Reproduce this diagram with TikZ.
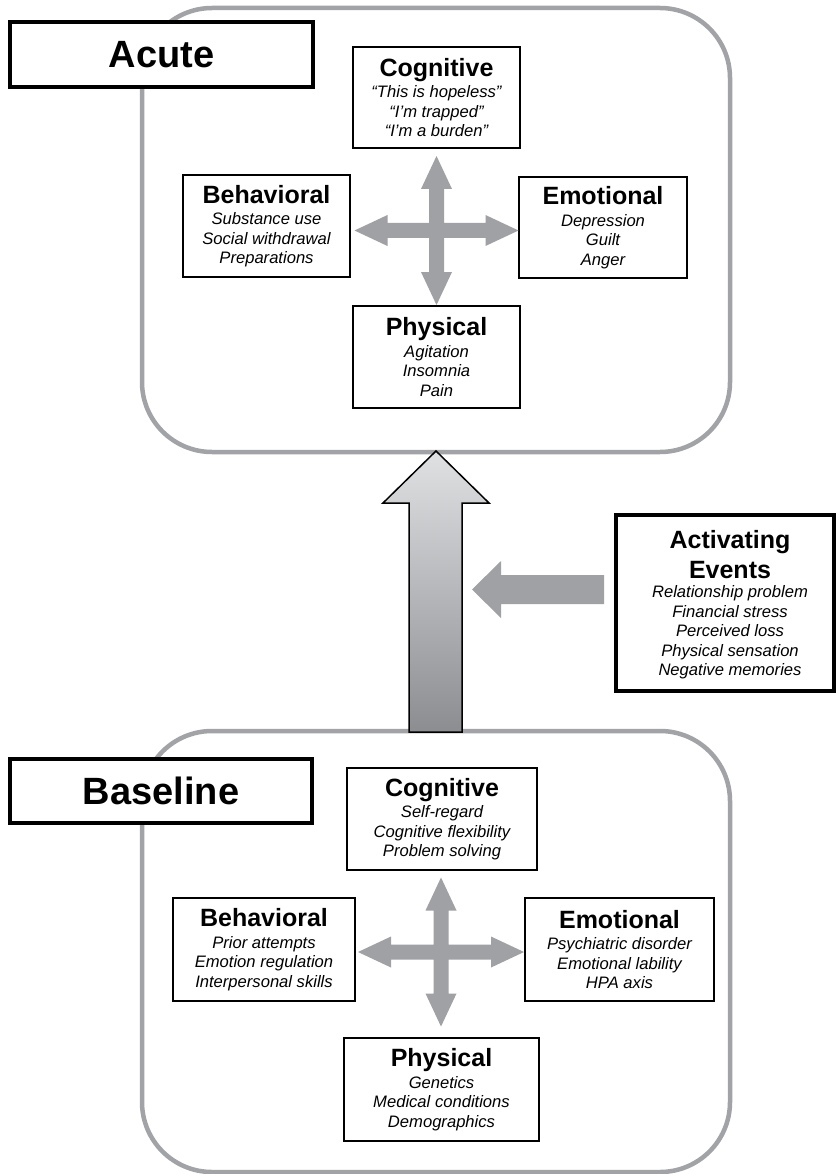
\documentclass[tikz,border=0pt]{standalone}
\usepackage{fontspec}
\setmainfont{Liberation Sans}
\usetikzlibrary{calc}
\definecolor{framegray}{RGB}{162,163,167}
\definecolor{arrgray}{RGB}{160,161,165}
\definecolor{shtop}{RGB}{224,225,227}
\definecolor{shbot}{RGB}{140,141,145}
\newcommand{\boxtitle}{\fontsize{25}{19.5}\selectfont\bfseries\upshape}
\newcommand{\crossarr}[3]{%
\begin{scope}[shift={(#1)}]
\pgfmathsetmacro{\La}{#2-33}\pgfmathsetmacro{\Va}{#3-33}
\fill[arrgray] (#2,0) -- (\La,-15.5) -- (\La,-7.5) -- (7.5,-7.5) -- (7.5,-\Va) -- (15.5,-\Va) -- (0,-#3) -- (-15.5,-\Va) -- (-7.5,-\Va) -- (-7.5,-7.5) -- (-\La,-7.5) -- (-\La,-15.5) -- (-#2,0) -- (-\La,15.5) -- (-\La,7.5) -- (-7.5,7.5) -- (-7.5,\Va) -- (-15.5,\Va) -- (0,#3) -- (15.5,\Va) -- (7.5,\Va) -- (7.5,7.5) -- (\La,7.5) -- (\La,15.5) -- cycle;
\end{scope}}
\begin{document}
\begin{tikzpicture}[x=1pt,y=-1pt,
  frame/.style={draw=framegray, line width=4.5, rounded corners=70},
  labelbox/.style={draw=black, line width=3.5, fill=white, inner sep=0,
    font=\fontsize{38}{42}\selectfont\bfseries},
  ibox/.style={draw=black, line width=1.3, fill=white, align=center, inner sep=0,
    font=\fontsize{16.6}{19.5}\selectfont\itshape},
  abox/.style={draw=black, line width=3.5, fill=white, inner sep=0},
  atext/.style={align=center, inner sep=0, font=\fontsize{16.6}{19.5}\selectfont\itshape}]
\useasboundingbox (0,0) rectangle (838,1174);
\fill[white] (0,0) rectangle (838,1174);

% ---------- Acute ----------
\draw[frame] (142,8) rectangle (730,452);
\node[labelbox, minimum width=303, minimum height=65] (acute) at (161.5,54.5) {Acute};
\node[ibox, minimum width=167, minimum height=101] (acog) at (436.5,97.5)
  {{\boxtitle Cognitive}\\[2pt]“This is hopeless”\\“I’m trapped”\\“I’m a burden”};
\node[ibox, minimum width=167, minimum height=102] (abeh) at (266.5,226)
  {{\boxtitle Behavioral}\\[2pt]Substance use\\Social withdrawal\\Preparations};
\node[ibox, minimum width=168, minimum height=101] (aemo) at (603,227.5)
  {{\boxtitle Emotional}\\[2pt]Depression\\Guilt\\Anger};
\node[ibox, minimum width=167, minimum height=102] (aphy) at (436.5,357)
  {{\boxtitle Physical}\\[2pt]Agitation\\Insomnia\\Pain};
\coordinate (across) at (436.5,230.5);
\crossarr{across}{82}{74.5}

% ---------- Baseline ----------
\draw[frame] (142,731) rectangle (730,1172);
\node[labelbox, minimum width=302, minimum height=64] (base) at (161,791) {Baseline};
\node[ibox, minimum width=190, minimum height=102] (bcog) at (442,819)
  {{\boxtitle Cognitive}\\[2pt]Self-regard\\Cognitive flexibility\\Problem solving};
\node[ibox, minimum width=182, minimum height=103] (bbeh) at (264,949.5)
  {{\boxtitle Behavioral}\\[2pt]Prior attempts\\Emotion regulation\\Interpersonal skills};
\node[ibox, minimum width=189, minimum height=103] (bemo) at (619.5,949.5)
  {{\boxtitle Emotional}\\[2pt]Psychiatric disorder\\Emotional lability\\HPA axis};
\node[ibox, minimum width=195, minimum height=103] (bphy) at (441.5,1089.5)
  {{\boxtitle Physical}\\[2pt]Genetics\\Medical conditions\\Demographics};
\coordinate (bcross) at (441,952);
\crossarr{bcross}{83}{74.5}

% ---------- Activating events ----------
\node[abox, minimum width=218, minimum height=176] (act) at (725,603) {};
\node[atext] (acttext) at ([xshift=5pt,yshift=-2pt]act.center)
  {{\boxtitle Activating}\\[6pt]{\boxtitle Events}\\Relationship problem\\Financial stress\\Perceived loss\\Physical sensation\\Negative memories};
\fill[arrgray] (604,575) -- (501,575) -- (501,561) -- (472,589.5) -- (501,618) -- (501,604) -- (604,604) -- cycle;

% ---------- Big upward arrow ----------
\draw[line width=1.5, top color=shtop, bottom color=shbot]
  (409,732) -- (409,503) -- (383,503) -- (436,451) -- (489,503) -- (462,503) -- (462,732) -- cycle;
\end{tikzpicture}
\end{document}
